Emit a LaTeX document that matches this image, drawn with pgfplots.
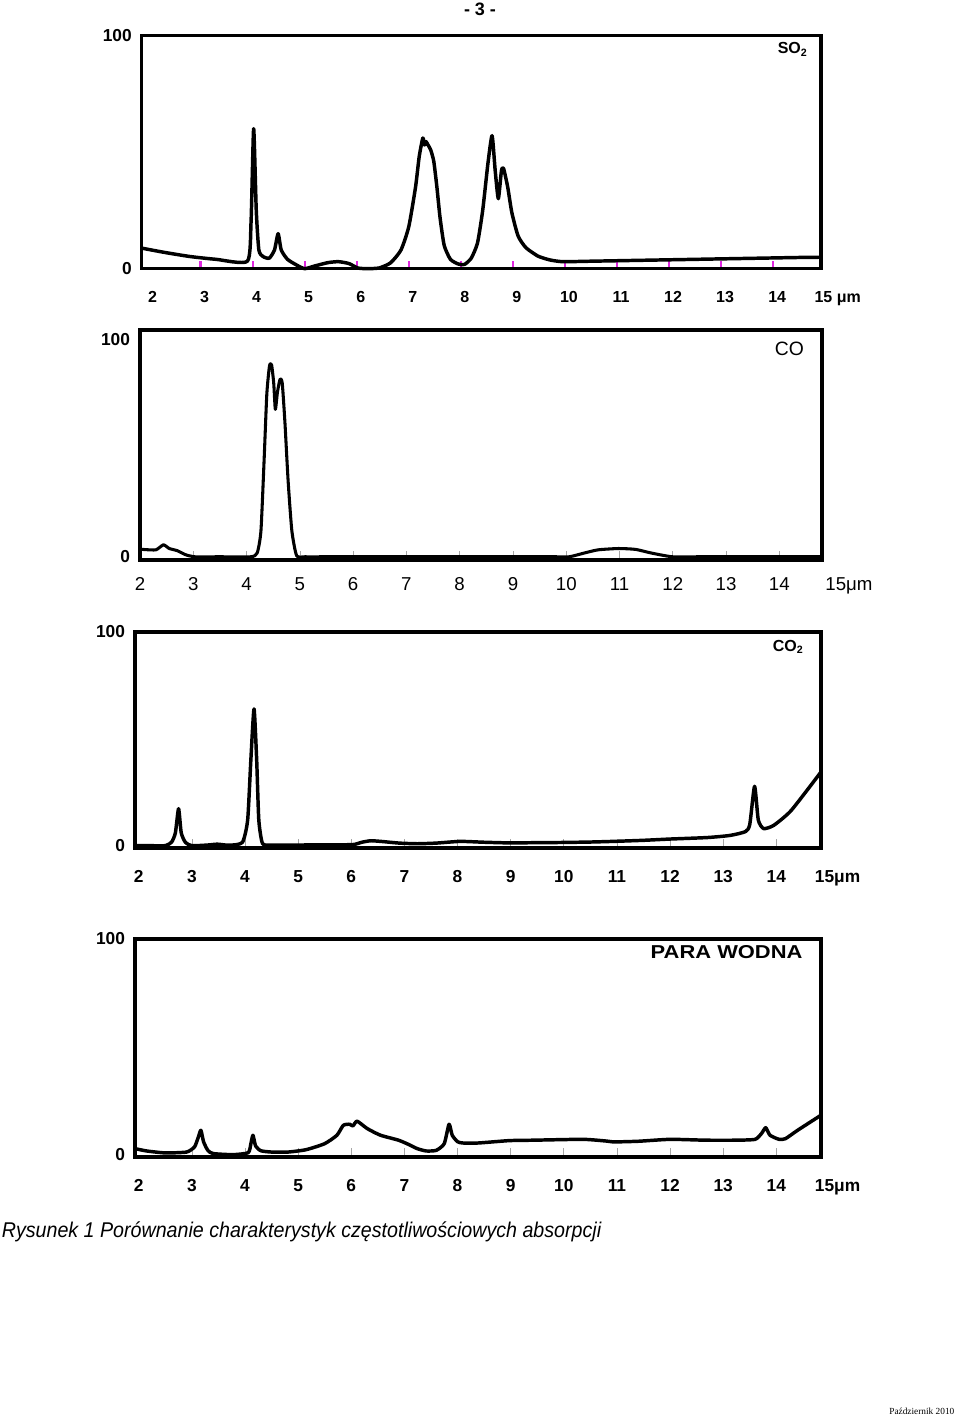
\documentclass[border=0pt]{standalone}
\usepackage{pgfplots}
\pgfplotsset{compat=1.18}
\usepackage{fontspec}
\setmainfont{Liberation Sans}
\newfontfamily\seriffont{Liberation Serif}
\usepackage{graphicx}
\definecolor{tickmag}{RGB}{224,40,224}

\tikzset{lab/.style={anchor=north, text height=0.75em, text depth=0.05em, inner ysep=0pt}}
\pgfplotsset{
  panel/.style={
    scale only axis, clip=false, anchor=south west,
    axis line style={line width=2.6pt},
    tick pos=left, tick align=inside,
    xtick={3,4,5,6,7,8,9,10,11,12,13,14},
    xticklabels={3,4,5,6,7,8,9,10,11,12,13,14},
    extra x ticks={2}, extra x tick labels={2},
    extra x tick style={major tick length=0pt},
    ytick=\empty,
    extra y ticks={0,100}, extra y tick labels={0,100},
    extra y tick style={major tick length=0pt},
    yticklabel style={font=\fontsize{13}{14}\selectfont\bfseries, xshift=-4pt},
  },
  curve/.style={black, line width=2.6pt, line join=round, line cap=round, smooth, tension=0.35},
}

\begin{document}
\begin{tikzpicture}
\path[use as bounding box] (0,0) rectangle (720pt,-1063.5pt);

\node[font=\fontsize{13.5}{14}\selectfont\bfseries] at (360pt,-7pt) {- 3 -};

% ---------- SO2 ----------
\begin{axis}[panel,
  at={(106.3pt,-201.5pt)}, width=509.5pt, height=175pt,
  xmin=1.87, xmax=14.92, ymin=0, ymax=100,
  major tick length=6pt,
  major tick style={draw=tickmag, line width=1.6pt},
  xticklabel style={font=\fontsize{12}{13}\selectfont\bfseries, lab, xshift=3pt, yshift=-18pt},
]
\addplot[curve] coordinates {
(1.87,8.8) (2.3,7.0) (2.8,5.2) (3.3,4.0) (3.9,3.2) (3.97,20) (4.02,60) (4.07,25) (4.12,8) (4.2,5.2)
(4.32,4.5) (4.42,8) (4.49,15) (4.55,8) (4.67,4) (4.85,1.5) (5.0,0) (5.2,1.2) (5.45,2.6) (5.65,3.0)
(5.85,2.2) (6.02,0.3) (6.2,0) (6.43,0.3) (6.65,2.5) (6.85,8) (7.0,18) (7.13,35) (7.2,48) (7.27,56)
(7.3,53) (7.33,54.5) (7.37,53) (7.42,51) (7.48,46) (7.54,35) (7.6,22) (7.68,10) (7.8,4) (7.95,2)
(8.07,1.8) (8.2,4.5) (8.32,11) (8.42,25) (8.52,45) (8.6,57) (8.66,42) (8.72,30) (8.78,42) (8.82,43)
(8.9,35) (8.98,24) (9.1,14) (9.25,9) (9.48,5.4) (9.7,3.8) (9.95,3.0) (10.5,3.2) (11,3.4) (11.5,3.6)
(12,3.8) (12.5,4.0) (13,4.2) (13.5,4.4) (14,4.6) (14.5,4.8) (14.92,4.9)
};
\node[anchor=east, font=\fontsize{12}{13}\selectfont\bfseries] at (axis cs:14.75,94) {SO\textsubscript{2}};
\node[lab, anchor=north west, inner xsep=0pt, font=\fontsize{12}{13}\selectfont\bfseries, yshift=-18pt] at (axis cs:14.79,0) {15 μm};
\end{axis}

% ---------- CO ----------
\begin{axis}[panel,
  at={(105pt,-420pt)}, width=511.5pt, height=172.5pt,
  xmin=2, xmax=14.8, ymin=-1.5, ymax=104.6,
  major tick length=7pt,
  major tick style={draw=gray!70, line width=0.5pt},
  xticklabel style={font=\fontsize{14}{15}\selectfont, lab, yshift=-15pt},
]
\addplot[curve, line width=2.3pt] coordinates {
(2.0,3.5) (2.1,3.3) (2.3,3.2) (2.44,5.5) (2.55,3.8) (2.7,2.8) (2.85,1.0) (3.02,0) (3.5,0) (4.08,0) (4.2,1.8)
(4.27,12) (4.33,45) (4.38,75) (4.43,88) (4.47,88.5) (4.51,80) (4.54,68) (4.58,76) (4.63,82) (4.67,80)
(4.72,62) (4.78,35) (4.85,12) (4.94,0.5) (5.1,0) (5.5,0) (6,0) (6.5,0) (7,0) (7.5,0) (8,0) (8.5,0)
(9,0) (9.5,0) (9.8,0) (10.06,0) (10.35,1.8) (10.6,3.2) (10.98,3.8) (11.3,3.4)
(11.6,1.7) (11.99,0) (12.5,0) (13,0) (13.5,0) (14,0) (14.5,0) (14.8,0)
};
\node[anchor=east, font=\fontsize{14.5}{15}\selectfont] at (axis cs:14.55,96) {CO};
\node[lab, anchor=north west, inner xsep=0pt, font=\fontsize{14}{15}\selectfont, yshift=-15pt] at (axis cs:14.86,-1.5) {15μm};
\end{axis}

% ---------- CO2 ----------
\begin{axis}[panel,
  at={(101.25pt,-636pt)}, width=514.5pt, height=162pt,
  xmin=1.93, xmax=14.84, ymin=-1.1, ymax=100,
  major tick length=7pt,
  major tick style={draw=gray!70, line width=0.5pt},
  xticklabel style={font=\fontsize{13}{14}\selectfont\bfseries, lab, yshift=-18pt},
]
\addplot[curve] coordinates {
(1.93,0) (2.2,0) (2.5,0) (2.62,1.7) (2.69,6) (2.75,17.3) (2.8,6) (2.88,1.5) (3.0,0) (3.3,0.3) (3.48,0.7)
(3.7,0.2) (3.95,1.5) (4.05,12) (4.11,40) (4.17,64) (4.22,40) (4.26,12) (4.33,1.0) (4.5,0.3) (5,0.3) (5.5,0.4) (6.03,0.5)
(6.2,1.6) (6.37,2.3) (6.6,1.9) (6.9,1.2) (7.24,0.9) (7.6,1.2) (8.05,2.0) (8.5,1.6) (8.97,1.3) (9.5,1.4) (10,1.5)
(10.5,1.7) (10.93,2.0) (11.5,2.5) (12,3.1) (12.7,3.8) (13.13,4.8) (13.42,6.6) (13.5,10) (13.59,27.8) (13.66,12) (13.76,8) (13.95,9.5)
(14.28,16.5) (14.84,34.5)
};
\node[anchor=east, font=\fontsize{12}{13}\selectfont\bfseries] at (axis cs:14.6,93) {CO\textsubscript{2}};
\node[lab, anchor=north west, inner xsep=0pt, font=\fontsize{13}{14}\selectfont\bfseries, yshift=-18pt] at (axis cs:14.72,-1.1) {15μm};
\end{axis}

% ---------- PARA WODNA ----------
\begin{axis}[panel,
  at={(101.25pt,-867.75pt)}, width=514.5pt, height=163.5pt,
  xmin=1.93, xmax=14.84, ymin=-1.1, ymax=100,
  major tick length=7pt,
  major tick style={draw=gray!70, line width=0.5pt},
  xticklabel style={font=\fontsize{13}{14}\selectfont\bfseries, lab, yshift=-18.5pt},
]
\addplot[curve] coordinates {
(1.93,2.8) (2.15,1.7) (2.5,0.8) (2.9,1.2) (3.05,3.6) (3.12,8) (3.17,11.3) (3.22,6) (3.3,2) (3.4,0.5)
(3.77,0) (4.06,0.9) (4.11,5) (4.15,9) (4.2,4) (4.3,1.8) (4.5,1.2) (4.81,1.2) (5.15,2.3) (5.5,5.1)
(5.73,9) (5.85,13.6) (5.97,14.1) (6.03,13.3) (6.11,15.5) (6.3,12.1) (6.55,9) (6.89,6.7) (7.1,4.5) (7.24,2.8)
(7.41,1.7) (7.6,2.0) (7.75,5.1) (7.84,14.1) (7.9,9) (8.0,6) (8.1,5.4) (8.39,5.4) (8.97,6.5) (9.43,6.7)
(10.36,7.1) (10.8,6.3) (10.93,5.9) (11.4,6.2) (12.0,7.1) (12.67,6.7) (13.24,6.7) (13.6,7.1) (13.72,9.8) (13.8,12.5)
(13.88,9) (14.05,7.1) (14.17,7.4) (14.4,11.3) (14.84,18.3)
};
\node[anchor=east, font=\fontsize{14}{15}\selectfont\bfseries] at (axis cs:14.58,94) {\resizebox{113.8pt}{\height}{PARA WODNA}};
\node[lab, anchor=north west, inner xsep=0pt, font=\fontsize{13}{14}\selectfont\bfseries, yshift=-18.5pt] at (axis cs:14.72,-1.1) {15μm};
\end{axis}

\node[anchor=west, inner sep=0pt, font=\fontsize{16}{17}\selectfont\itshape] at (1.2pt,-923.8pt)
  {\resizebox{449.5pt}{\height}{Rysunek 1 Porównanie charakterystyk częstotliwościowych absorpcji}};

\node[anchor=east, inner sep=0pt, font=\fontsize{7}{8}\selectfont\seriffont] at (716pt,-1058.5pt) {Październik 2010};
\end{tikzpicture}
\end{document}
